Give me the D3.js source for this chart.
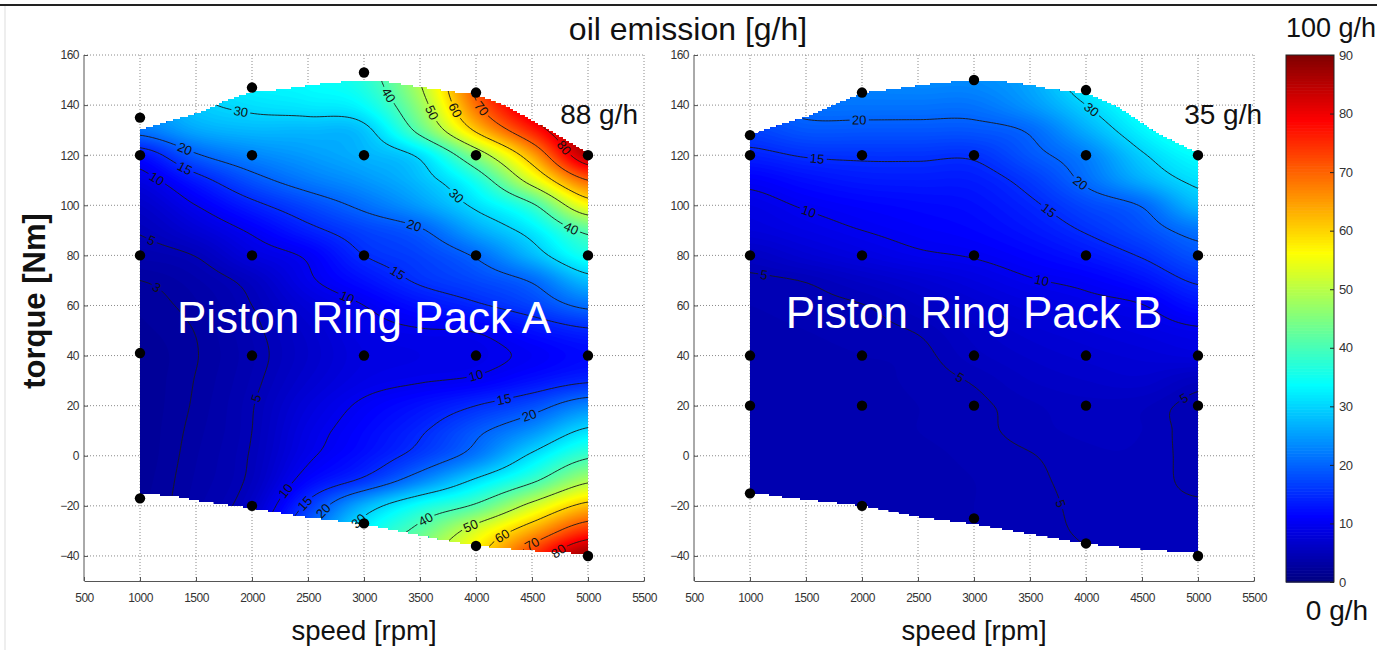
<!DOCTYPE html>
<html>
<head>
<meta charset="utf-8">
<script src="https://cdn.jsdelivr.net/npm/d3@7"></script>
<style>
  body { margin: 0; background: #fff; }
  svg { display: block; }
  text { font-family: "Liberation Sans", Arial, Helvetica, sans-serif; }
</style>
</head>
<body>
<svg id="chart" width="1377" height="650"></svg>
<script>
// ---- data ---------------------------------------------------------------
// grid nodes of the oil emission maps
const speeds  = [1000, 1500, 2000, 2500, 3000, 3500, 4000, 4500, 5000];
const torques = [150, 140, 130, 120, 110, 100, 90, 80, 70, 60, 50, 40, 30, 20, 10, 0, -10, -20, -30, -40];

// oil emission [g/h], one row per torque, one column per speed
const emissionA = [
  [27, 30, 33, 34, 37, 50, 72, 88, 98],
  [24, 29, 31, 32, 34, 47, 69, 84, 93],
  [21.5, 26, 27.5, 27.5, 28.7, 42, 61, 76, 89],
  [12.5, 19.5, 23, 25, 27, 31, 46, 64, 85],
  [8.7, 13.5, 18.5, 22, 24.5, 28, 36, 53, 70],
  [6.5, 10, 14, 17.5, 21, 25, 31, 39, 56],
  [5.2, 7.5, 10.5, 14, 17, 19.5, 26, 32, 41.5],
  [4.2, 5.1, 8.3, 10.5, 15, 17, 20.5, 27.5, 35.5],
  [3.0, 3.9, 5.8, 9.5, 12.5, 15.5, 17.5, 20.5, 28],
  [2.6, 3.4, 5.0, 7.8, 10, 12.5, 14.5, 17, 21],
  [2.4, 3.05, 4.6, 6.8, 9, 9.8, 10.2, 12.5, 14.5],
  [2.2, 2.95, 4.4, 6.5, 8.5, 9, 9.3, 10.5, 12],
  [2.2, 3.05, 4.6, 7, 9, 9.8, 10.5, 12.5, 14.5],
  [2.2, 3.15, 4.9, 8, 10.5, 12.5, 15, 18, 23],
  [2.2, 3.3, 5.0, 8.8, 11.5, 14.5, 19, 24, 31],
  [2.2, 3.45, 5.2, 9.5, 12.5, 16.5, 22, 31, 39],
  [2.3, 3.6, 5.5, 11.5, 16, 23, 31, 39, 49],
  [2.4, 3.8, 6.5, 16, 27, 35, 41, 52, 62],
  [2.5, 4.0, 8, 20, 33, 42, 53, 64, 75],
  [2.5, 4.2, 9, 22, 36, 47, 58, 74, 88]
];

const emissionB = [
  [20, 22, 23, 23.5, 23.5, 26, 33, 39, 45],
  [19, 21.2, 21.5, 21.5, 21.5, 24.5, 30, 36, 42],
  [17, 18.8, 18.8, 18.8, 18.8, 20.5, 26.5, 33, 38],
  [14, 15.3, 15.6, 15.6, 15.5, 18.8, 22.5, 29.5, 34],
  [10.8, 12.3, 13.3, 13.5, 13.6, 16.2, 20.8, 26.5, 31],
  [9, 10.3, 11.2, 11.8, 12.4, 14.4, 17.5, 20.3, 27.5],
  [8, 9, 10, 10.8, 11.5, 13, 15.3, 18, 21.5],
  [6, 7.3, 8.5, 9.6, 10.2, 11.4, 13, 15.3, 18.5],
  [4.7, 5.1, 6.2, 7.3, 8.5, 9.8, 10.7, 12.5, 15.5],
  [4.5, 4.7, 4.95, 6, 7.2, 8.3, 9.2, 9.9, 12.5],
  [4.4, 4.5, 4.7, 5.1, 6.3, 7.3, 8, 8.7, 9.6],
  [4.3, 4.4, 4.5, 4.7, 5.8, 6.6, 7.2, 7.7, 8.2],
  [4.3, 4.4, 4.4, 4.6, 5.1, 6, 6.5, 6.8, 5.6],
  [4.2, 4.3, 4.4, 4.5, 4.8, 5.4, 5.8, 5.6, 4.6],
  [4.2, 4.3, 4.4, 4.5, 4.75, 5.3, 5.6, 5.5, 4.6],
  [4.2, 4.3, 4.3, 4.4, 4.6, 4.95, 5.4, 5.4, 4.7],
  [4.2, 4.3, 4.3, 4.4, 4.5, 4.8, 5.3, 5.3, 4.8],
  [4.2, 4.3, 4.3, 4.4, 4.5, 4.7, 5.2, 5.2, 5.1],
  [4.2, 4.3, 4.3, 4.4, 4.5, 4.7, 5.1, 5.2, 5.2],
  [4.2, 4.3, 4.3, 4.4, 4.5, 4.6, 4.95, 5.2, 5.2]
];

// outline of the measured operating range [speed, torque]
const upperA = [[1000,130.4],[1298,134.4],[1550,137.7],[1744,141.7],[1997,145.7],[2220,146.4],[2607,148.8],[2815,149.7],[3202,149.7],[3470,147.7],[3678,146.4],[4006,144.4],[4274,139.7],[4541,133],[4750,127.7],[5000,121]];
const lowerA = [[1000,-15.6],[1298,-16.3],[1506,-18.3],[1997,-21.3],[2488,-24.9],[2994,-27.6],[3291,-30.3],[3738,-34.3],[3991,-36.3],[4482,-38.3],[5000,-39.6]];
const upperB = [[1000,128.4],[1208,131.7],[1506,135.7],[1774,141],[2012,145.3],[2220,146.4],[2607,148.8],[2815,149.7],[3262,149.7],[3500,148.4],[3649,147],[4006,145],[4274,139.7],[4631,129],[5000,121]];
const lowerB = [[1000,-14.9],[1298,-16.9],[1997,-20.3],[2518,-24.9],[2994,-27.6],[3500,-31.6],[4006,-35.6],[4482,-37.6],[5000,-39.3]];

// measurement points [speed, torque]
const pointsA = [[1000,135],[1000,120],[1000,80],[1000,41],[1000,-17],
                 [2000,147],[2000,120],[2000,80],[2000,40],[2000,-20],
                 [3000,153],[3000,120],[3000,80],[3000,40],[3000,-27],
                 [4000,145],[4000,120],[4000,80],[4000,40],[4000,-36],
                 [5000,120],[5000,80],[5000,40],[5000,-40]];
const pointsB = [[1000,128],[1000,120],[1000,80],[1000,40],[1000,20],[1000,-15],
                 [2000,145],[2000,120],[2000,80],[2000,40],[2000,20],[2000,-20],
                 [3000,150],[3000,120],[3000,80],[3000,40],[3000,20],[3000,-25],
                 [4000,146],[4000,120],[4000,80],[4000,40],[4000,20],[4000,-35],
                 [5000,120],[5000,80],[5000,40],[5000,20],[5000,-40]];

// iso-lines and where their values are written [speed, torque, level]
const levels = [3, 5, 10, 15, 20, 30, 40, 50, 60, 70, 80];
const labelsA = [[1900,135.5,30],[1417,123,20],[1432,116.4,15],[1134,110,10],[3202,143.7,40],[3580,136.4,50],
                 [3800,137.5,60],[4040,138.4,70],[4765,122.5,80],[3842,104.5,30],[3425,89.7,20],[4820,88,40],
                 [3292,73,15],[2845,63,10],[1130,88,5],[1119,66,3],[2309,-13.6,10],[2458,-19,15],[2607,-21,20],[2934,-25,30],
                 [3559,-26.3,40],[3976,-30.3,50],[4244,-32.3,60],[4482,-34.3,70],[4690,-35,80],[4244,22.4,15],
                 [4482,17,20],[4006,33,10],[2101,22.4,5]];
const labelsB = [[1967,133,20],[3991,135.7,30],[1595,119,15],[3946,108.4,20],[3649,97,15],[1521,97.7,10],
                 [3604,69.7,10],[1119,71,5],[2875,31.7,5],[3708,-20.3,5],[4929,19.7,5]];

// axis ticks and colour bar ticks
const speedTicks  = [500, 1000, 1500, 2000, 2500, 3000, 3500, 4000, 4500, 5000, 5500];
const torqueTicks = [-40, -20, 0, 20, 40, 60, 80, 100, 120, 140, 160];
const colorTicks  = [0, 10, 20, 30, 40, 50, 60, 70, 80, 90];

// ---- helpers ------------------------------------------------------------
const svg = d3.select("#chart");
const defs = svg.append("defs");

// MATLAB "jet" colour map over 0..90 g/h
function jet(v) {
  const x = Math.max(0, Math.min(1, v / 90));
  const c = k => Math.round(255 * Math.max(0, Math.min(1, 1.5 - Math.abs(4 * x - k))));
  return `rgb(${c(3)},${c(2)},${c(1)})`;
}

// smooth (Catmull-Rom) surface through the grid nodes
function catmull(p0, p1, p2, p3, x) {
  return p1 + 0.5 * x * (p2 - p0 + x * (2 * p0 - 5 * p1 + 4 * p2 - p3 + x * (3 * (p1 - p2) + p3 - p0)));
}
function surface(grid) {
  const nr = grid.length, nc = grid[0].length;
  const at = (r, c) => grid[Math.max(0, Math.min(nr - 1, r))][Math.max(0, Math.min(nc - 1, c))];
  const ds = speeds[1] - speeds[0], dt = torques[0] - torques[1];
  return (s, t) => {
    let u = Math.max(0, Math.min(nc - 1, (s - speeds[0]) / ds));
    let v = Math.max(0, Math.min(nr - 1, (torques[0] - t) / dt));
    const c = Math.min(nc - 2, Math.floor(u)), r = Math.min(nr - 2, Math.floor(v));
    const fx = u - c, fy = v - r;
    const row = k => catmull(at(r + k, c - 1), at(r + k, c), at(r + k, c + 1), at(r + k, c + 2), fx);
    return catmull(row(-1), row(0), row(1), row(2), fy);
  };
}

// the gridded map only covers whole cells, so its edge is a fine staircase
function stairs(bound, upper) {
  const edge = d3.scaleLinear().domain(bound.map(d => d[0])).range(bound.map(d => d[1]));
  const q = 0.8, step = 10, out = [];
  let prev = null;
  for (let s = bound[0][0]; s <= bound[bound.length - 1][0] + 0.01; s += step) {
    const v = edge(s) / q;
    const t = (upper ? Math.floor(v) : Math.ceil(v)) * q;
    if (prev !== null && t !== prev) out.push([s, prev]);
    out.push([s, t]);
    prev = t;
  }
  return out;
}

const fmt = d3.format("d");
const y = d3.scaleLinear().domain([-50, 160]).range([581, 55]);
const panels = [
  { id: "A", x: d3.scaleLinear().domain([500, 5500]).range([84, 644]), grid: emissionA,
    upper: upperA, lower: lowerA, points: pointsA, labels: labelsA,
    name: "Piston Ring Pack A", nameY: 333, maxText: "88 g/h", maxX: 638 },
  { id: "B", x: d3.scaleLinear().domain([500, 5500]).range([694, 1254]), grid: emissionB,
    upper: upperB, lower: lowerB, points: pointsB, labels: labelsB,
    name: "Piston Ring Pack B", nameY: 328, maxText: "35 g/h", maxX: 1262 }
];

// sampling lattice used to trace the colour bands and iso-lines
const s0 = 900, sStep = 25, nx = 169;
const t0 = 153, tStep = 1, ny = 197;

panels.forEach(p => {
  const x = p.x;
  const g = svg.append("g");

  // dotted grid
  g.append("g").selectAll("line").data(speedTicks.slice(1)).join("line")
    .attr("x1", d => x(d)).attr("x2", d => x(d)).attr("y1", y(-50)).attr("y2", y(160))
    .attr("stroke", "#8a8a8a").attr("stroke-width", 1).attr("stroke-dasharray", "1,2");
  g.append("g").selectAll("line").data(torqueTicks).join("line")
    .attr("x1", x(500)).attr("x2", x(5500)).attr("y1", d => y(d)).attr("y2", d => y(d))
    .attr("stroke", "#8a8a8a").attr("stroke-width", 1).attr("stroke-dasharray", "1,2");

  // axes (left and bottom only)
  const xAxis = d3.axisBottom(x).tickValues(speedTicks).tickFormat(fmt).tickSizeInner(-4).tickSizeOuter(0).tickPadding(12);
  const yAxis = d3.axisLeft(y).tickValues(torqueTicks).tickFormat(fmt).tickSizeInner(-4).tickSizeOuter(0).tickPadding(5);
  const ax = g.append("g").attr("transform", `translate(0,${y(-50)})`).call(xAxis);
  const ay = g.append("g").attr("transform", `translate(${x(500)},0)`).call(yAxis);
  ay.select(".domain").attr("d", `M0,${y(-50)}V${y(160)}`);
  [ax, ay].forEach(a => {
    a.select(".domain").attr("stroke", "#555");
    a.selectAll(".tick line").attr("stroke", "#555");
    a.selectAll(".tick text").attr("fill", "#333").style("font-size", "12px")
      .style("font-family", "'Liberation Sans', Arial, sans-serif").attr("letter-spacing", "-0.5");
  });

  // operating range outline
  const outline = stairs(p.upper, true).concat(stairs(p.lower, false).reverse())
    .map(d => [x(d[0]), y(d[1])]);
  defs.append("clipPath").attr("id", "clip" + p.id)
    .append("path").attr("d", "M" + outline.join("L") + "Z");

  // resample the surface
  const f = surface(p.grid);
  const values = new Array(nx * ny);
  for (let j = 0; j < ny; j++)
    for (let i = 0; i < nx; i++)
      values[j * nx + i] = f(s0 + i * sStep, t0 - j * tStep);

  const toPx = (gx, gy) => [x(s0 + (gx - 0.5) * sStep), y(t0 - (gy - 0.5) * tStep)];
  const path = d3.geoPath(d3.geoTransform({
    point(gx, gy) { const q = toPx(gx, gy); this.stream.point(q[0], q[1]); }
  }));

  // colour bands
  const bandStep = 0.5;
  const bands = d3.contours().size([nx, ny]).thresholds(d3.range(0, 101, bandStep))(values);
  g.append("g").attr("clip-path", `url(#clip${p.id})`)
    .selectAll("path").data(bands).join("path")
    .attr("d", path).attr("fill", d => jet(d.value + bandStep / 2));

  // iso-lines
  const isolines = d3.contours().size([nx, ny]).thresholds(levels)(values);

  // label anchors snapped onto the iso-lines
  const labelPos = p.labels.map(([ls, lt, lv]) => {
    const target = [x(ls), y(lt)];
    const c = isolines.find(d => d.value === lv);
    let best = null, bestD = Infinity;
    c.coordinates.forEach(poly => poly.forEach(ring => {
      const pts = ring.map(q => toPx(q[0], q[1]));
      pts.forEach((q, k) => {
        const dd = (q[0] - target[0]) ** 2 + (q[1] - target[1]) ** 2;
        if (dd < bestD) {
          bestD = dd;
          const a = pts[Math.max(0, k - 3)], b = pts[Math.min(pts.length - 1, k + 3)];
          best = { x: q[0], y: q[1], ang: Math.atan2(b[1] - a[1], b[0] - a[0]) * 180 / Math.PI };
        }
      });
    }));
    if (!best) best = { x: target[0], y: target[1], ang: 0 };
    if (best.ang > 90) best.ang -= 180;
    if (best.ang < -90) best.ang += 180;
    best.text = String(lv);
    return best;
  });

  const mask = defs.append("mask").attr("id", "mask" + p.id)
    .attr("maskUnits", "userSpaceOnUse").attr("x", 0).attr("y", 0).attr("width", 1377).attr("height", 650);
  mask.append("rect").attr("width", 1377).attr("height", 650).attr("fill", "#fff");
  mask.selectAll("rect.gap").data(labelPos).join("rect").attr("class", "gap")
    .attr("x", d => -d.text.length * 3.8 - 2).attr("y", -5)
    .attr("width", d => d.text.length * 7.6 + 4).attr("height", 10)
    .attr("transform", d => `translate(${d.x},${d.y}) rotate(${d.ang})`)
    .attr("fill", "#000");

  g.append("g").attr("clip-path", `url(#clip${p.id})`)
    .append("g").attr("mask", `url(#mask${p.id})`)
    .selectAll("path").data(isolines).join("path")
    .attr("d", path).attr("fill", "none").attr("stroke", "#1a1a1a").attr("stroke-width", 0.9);

  g.append("g").selectAll("text").data(labelPos).join("text")
    .attr("transform", d => `translate(${d.x},${d.y}) rotate(${d.ang})`)
    .attr("text-anchor", "middle").attr("dy", "0.35em")
    .style("font-size", "13px").attr("fill", "#111").text(d => d.text);

  // measurement points
  g.append("g").selectAll("circle").data(p.points).join("circle")
    .attr("cx", d => x(d[0])).attr("cy", d => y(d[1])).attr("r", 5.2).attr("fill", "#000");

  // titles
  g.append("text").attr("x", x(3000)).attr("y", 640).attr("text-anchor", "middle")
    .style("font-size", "27.5px").attr("fill", "#111").text("speed [rpm]");
  g.append("text").attr("x", x(3000)).attr("y", p.nameY).attr("text-anchor", "middle")
    .style("font-size", "44px").attr("fill", "#fff").text(p.name);
  g.append("text").attr("x", p.maxX).attr("y", 124).attr("text-anchor", "end")
    .style("font-size", "28px").attr("fill", "#111").text(p.maxText);
});

// shared texts
svg.append("text").attr("x", 688).attr("y", 40).attr("text-anchor", "middle")
  .style("font-size", "32px").attr("fill", "#111").text("oil emission [g/h]");
svg.append("text").attr("transform", "translate(45,301) rotate(-90)").attr("text-anchor", "middle")
  .style("font-size", "31px").style("font-weight", "bold").attr("fill", "#111").text("torque [Nm]");

// colour bar
const cy = d3.scaleLinear().domain([0, 90]).range([582, 55]);
const cbX = 1286, cbW = 48;
const cb = svg.append("g");
cb.selectAll("rect").data(d3.range(0, 90, 0.5)).join("rect")
  .attr("x", cbX).attr("width", cbW)
  .attr("y", d => cy(d + 0.5)).attr("height", d => cy(d) - cy(d + 0.5) + 0.6)
  .attr("fill", d => jet(d + 0.25));
cb.append("rect").attr("x", cbX).attr("y", cy(90)).attr("width", cbW).attr("height", cy(0) - cy(90))
  .attr("fill", "none").attr("stroke", "#222").attr("stroke-width", 1);
const cAxis = d3.axisRight(cy).tickValues(colorTicks).tickSizeInner(-4).tickSizeOuter(0).tickPadding(5);
const cax = cb.append("g").attr("transform", `translate(${cbX + cbW},0)`).call(cAxis);
cax.select(".domain").remove();
cax.selectAll(".tick line").attr("stroke", "#222");
cax.selectAll(".tick text").attr("fill", "#333").style("font-size", "13px").attr("letter-spacing", "-0.5");
svg.append("text").attr("x", 1331).attr("y", 37).attr("text-anchor", "middle")
  .style("font-size", "27px").attr("fill", "#111").text("100 g/h");
svg.append("text").attr("x", 1337).attr("y", 620).attr("text-anchor", "middle")
  .style("font-size", "28px").attr("fill", "#111").text("0 g/h");

// frame lines
svg.append("line").attr("x1", 0).attr("x2", 1377).attr("y1", 5).attr("y2", 5)
  .attr("stroke", "#222").attr("stroke-width", 2);
svg.append("line").attr("x1", 5).attr("x2", 5).attr("y1", 6).attr("y2", 650)
  .attr("stroke", "#ddd").attr("stroke-width", 1);
</script>
</body>
</html>
